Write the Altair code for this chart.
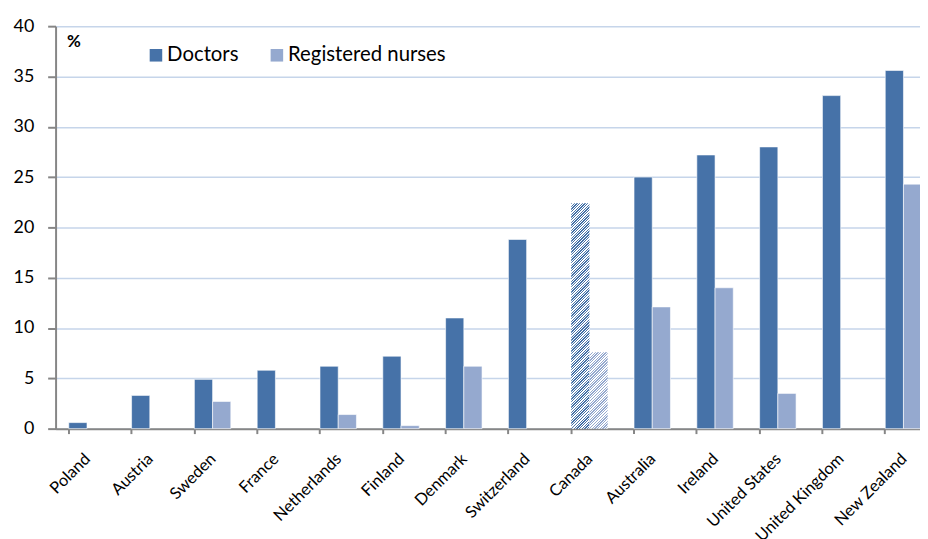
import altair as alt
import pandas as pd

countries = ["Poland", "Austria", "Sweden", "France", "Netherlands", "Finland",
             "Denmark", "Switzerland", "Canada", "Australia", "Ireland",
             "United States", "United Kingdom", "New Zealand"]
doctors = [0.6, 3.3, 4.9, 5.8, 6.2, 7.2, 11.0, 18.8, 22.4, 25.0, 27.2, 28.0, 33.1, 35.6]
nurses = [None, None, 2.7, None, 1.4, 0.3, 6.2, None, 7.6, 12.1, 14.0, 3.5, None, 24.3]
series_names = ["Doctors", "Registered nurses"]
hatched_country = "Canada"

rows = []
for c, d, n in zip(countries, doctors, nurses):
    rows.append({"country": c, "series": series_names[0], "value": d})
    if n is not None:
        rows.append({"country": c, "series": series_names[1], "value": n})
df = pd.DataFrame(rows)

DOC = "#4672A8"
NUR = "#95A9CF"
FONT = "Lato"

# layout (pixels)
PLOT_H = 406
PAD_L, PAD_T = 48, 16
WIDTH = 928 - 8 - PAD_L
RANGE_W = 887
BAR_W = RANGE_W / len(countries) * 0.58 / 2


def hatch(color, w, h, period=2.7, duty=0.5):
    a = (w + h) / (w * w + h * h)
    n = max(1, round((w + h) / period))
    stops = []
    for i in range(n):
        t0 = i / n
        t1 = (i + duty) / n
        t2 = (i + 1) / n
        stops += [
            {"offset": t0, "color": color},
            {"offset": t1, "color": color},
            {"offset": t1, "color": "#ffffff"},
            {"offset": t2, "color": "#ffffff"},
        ]
    return {"gradient": "linear", "x1": 0, "y1": 0, "x2": a * w, "y2": a * h, "stops": stops}


ypx = PLOT_H / 40.0
can_doc = doctors[countries.index(hatched_country)]
can_nur = nurses[countries.index(hatched_country)]

x_enc = alt.X("country:N", sort=countries,
              scale=alt.Scale(range=[0, RANGE_W], paddingInner=0.42, paddingOuter=0.21),
              axis=alt.Axis(title=None, labelAngle=-45, labelFontSize=16.5, labelFont=FONT,
                            labelColor="#000000", labelPadding=17, labelOffset=-5,
                            tickSize=5, tickWidth=2, tickColor="#868686", bandPosition=0,
                            domainColor="#868686", domainWidth=2, labelAlign="right",
                            labelBaseline="top"))
xo_enc = alt.XOffset("series:N", scale=alt.Scale(domain=series_names))
y_enc = alt.Y("value:Q", scale=alt.Scale(domain=[0, 40]),
              axis=alt.Axis(values=list(range(0, 41, 5)), title="%", titleAngle=0,
                            titleX=11, titleY=21, titleAlign="left",
                            titleBaseline="alphabetic", titleFont=FONT, titleFontSize=17,
                            titleFontWeight="bold", labelFont=FONT, labelFontSize=18,
                            labelColor="#000000", labelPadding=14, tickSize=8,
                            tickWidth=2, tickColor="#868686", domainColor="#868686",
                            domainWidth=2, gridColor="#C6D5EA", gridWidth=1.5))

base = alt.Chart(df).encode(x=x_enc, xOffset=xo_enc, y=y_enc)

main = base.transform_filter(alt.datum.country != hatched_country).mark_bar(
    stroke="#ffffff", strokeWidth=0.6
).encode(
    color=alt.Color("series:N", scale=alt.Scale(domain=series_names, range=[DOC, NUR]),
                    legend=alt.Legend(title=None, orient="none", legendX=91, legendY=19,
                                      direction="horizontal", symbolType="square",
                                      symbolSize=160, symbolStrokeWidth=0,
                                      labelFont=FONT, labelFontSize=20.5,
                                      labelColor="#000000", columnPadding=28,
                                      labelOffset=1, padding=0))
)

hatch_doc = base.transform_filter(
    (alt.datum.country == hatched_country) & (alt.datum.series == series_names[0])
).mark_bar(fill=hatch(DOC, BAR_W, can_doc * ypx))

hatch_nur = base.transform_filter(
    (alt.datum.country == hatched_country) & (alt.datum.series == series_names[1])
).mark_bar(fill=hatch(NUR, BAR_W, can_nur * ypx))

chart = alt.layer(main, hatch_doc, hatch_nur).properties(
    width=WIDTH, height=PLOT_H,
    autosize=alt.AutoSizeParams(type="none"),
    padding={"left": PAD_L, "top": PAD_T, "right": 0, "bottom": 539 - 8 - PAD_T - PLOT_H},
    background="#ffffff",
).configure_view(stroke=None)

chart.save("out.html", embed_options={"renderer": "svg", "actions": False})
